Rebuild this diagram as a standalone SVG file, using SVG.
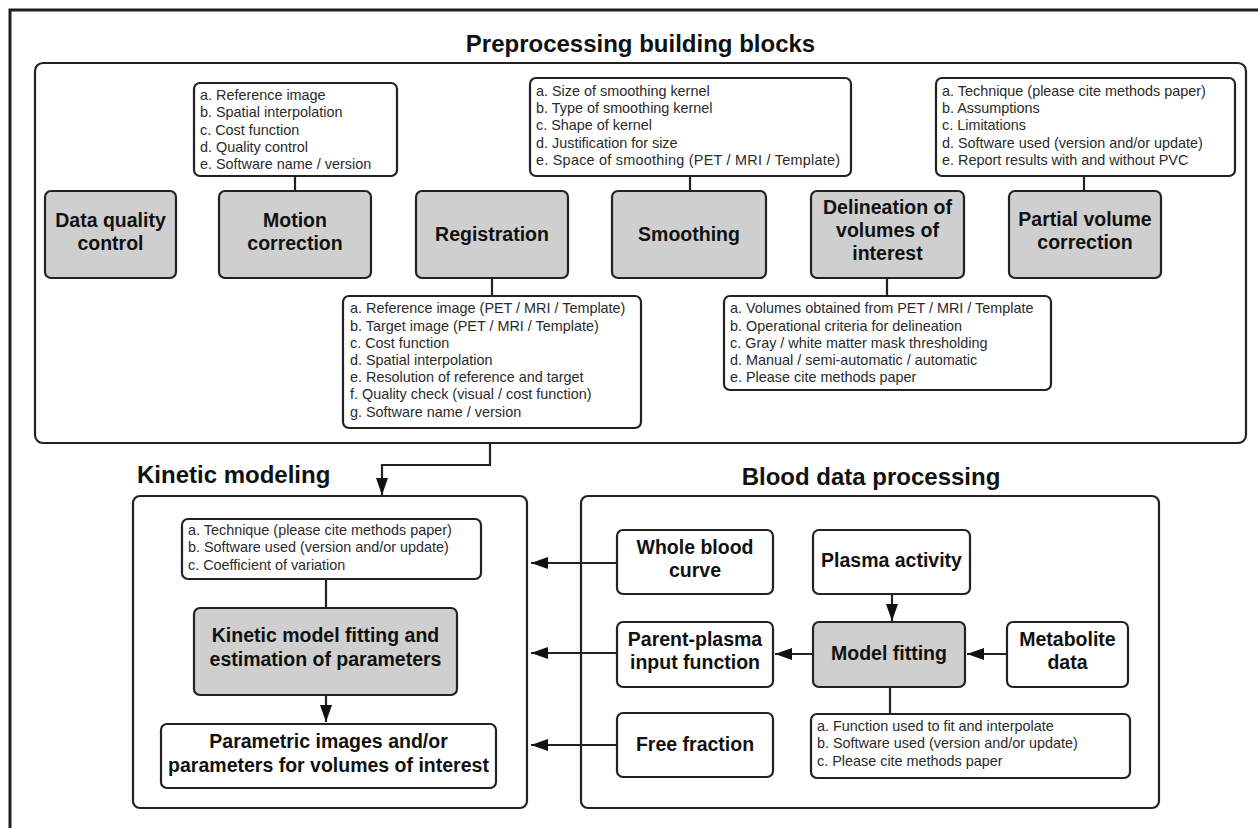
<svg xmlns="http://www.w3.org/2000/svg" width="1258" height="828" viewBox="0 0 1258 828">
<style>
.frame{fill:none;stroke:#1e1e1e;stroke-width:3}
.cont{fill:#fff;stroke:#222;stroke-width:2.2}
.gbox{fill:#cfcfcf;stroke:#222;stroke-width:2.2}
.wbox{fill:#fff;stroke:#222;stroke-width:2.2}
.lbl{font-family:"Liberation Sans",Arial,sans-serif;font-weight:bold;font-size:19.5px;fill:#111;text-anchor:middle}
.ttl{font-family:"Liberation Sans",Arial,sans-serif;font-weight:bold;font-size:24px;fill:#111}
.lst{font-family:"Liberation Sans",Arial,sans-serif;font-size:14.4px;fill:#2a2a2a}
.ln{fill:none;stroke:#222;stroke-width:2.2}
</style>
<defs>
<marker id="ah" markerUnits="userSpaceOnUse" markerWidth="17" markerHeight="12" refX="17" refY="6" orient="auto">
<path d="M0,0 L17,6 L0,12 z" fill="#111"/>
</marker>
</defs>
<rect width="1258" height="828" fill="#fff"/>
<rect class="frame" x="10" y="10" width="1262" height="832"/>

<g id="preprocessing">
<text class="ttl" x="640.5" y="52" text-anchor="middle">Preprocessing building blocks</text>
<rect class="cont" x="35" y="63" width="1211" height="380" rx="8"/>
</g>

<g id="data-quality">
<rect class="gbox" x="45" y="191" width="131" height="87" rx="6"/>
<text class="lbl" x="110.5" y="227">Data quality</text>
<text class="lbl" x="110.5" y="250">control</text>
</g>

<g id="motion-list">
<rect class="wbox" x="194" y="83" width="203" height="93" rx="6"/>
<text class="lst" x="200" y="100">a. Reference image</text>
<text class="lst" x="200" y="117.3">b. Spatial interpolation</text>
<text class="lst" x="200" y="134.6">c. Cost function</text>
<text class="lst" x="200" y="151.9">d. Quality control</text>
<text class="lst" x="200" y="169.2">e. Software name / version</text>
</g>
<g id="motion">
<rect class="gbox" x="219" y="191" width="152" height="87" rx="6"/>
<text class="lbl" x="295" y="227">Motion</text>
<text class="lbl" x="295" y="250">correction</text>
</g>

<g id="registration">
<rect class="gbox" x="416" y="191" width="152" height="87" rx="6"/>
<text class="lbl" x="492" y="241">Registration</text>
</g>
<g id="registration-list">
<rect class="wbox" x="343" y="296" width="298" height="132" rx="6"/>
<text class="lst" x="350" y="313.3">a. Reference image (PET / MRI / Template)</text>
<text class="lst" x="350" y="330.5">b. Target image (PET / MRI / Template)</text>
<text class="lst" x="350" y="347.7">c. Cost function</text>
<text class="lst" x="350" y="364.9">d. Spatial interpolation</text>
<text class="lst" x="350" y="382.1">e. Resolution of reference and target</text>
<text class="lst" x="350" y="399.3">f. Quality check (visual / cost function)</text>
<text class="lst" x="350" y="416.5">g. Software name / version</text>
</g>

<g id="smoothing-list">
<rect class="wbox" x="530" y="78" width="321" height="98" rx="6"/>
<text class="lst" x="536" y="95.7">a. Size of smoothing kernel</text>
<text class="lst" x="536" y="113">b. Type of smoothing kernel</text>
<text class="lst" x="536" y="130.3">c. Shape of kernel</text>
<text class="lst" x="536" y="147.6">d. Justification for size</text>
<text class="lst" x="536" y="164.9" textLength="304" lengthAdjust="spacing">e. Space of smoothing (PET / MRI / Template)</text>
</g>
<g id="smoothing">
<rect class="gbox" x="612" y="191" width="154" height="87" rx="6"/>
<text class="lbl" x="689" y="241">Smoothing</text>
</g>

<g id="delineation">
<rect class="gbox" x="811" y="191" width="153" height="87" rx="6"/>
<text class="lbl" x="887.5" y="214">Delineation of</text>
<text class="lbl" x="887.5" y="237">volumes of</text>
<text class="lbl" x="887.5" y="260">interest</text>
</g>
<g id="delineation-list">
<rect class="wbox" x="724" y="296" width="327" height="94" rx="6"/>
<text class="lst" x="730" y="313.3">a. Volumes obtained from PET / MRI / Template</text>
<text class="lst" x="730" y="330.5">b. Operational criteria for delineation</text>
<text class="lst" x="730" y="347.7">c. Gray / white matter mask thresholding</text>
<text class="lst" x="730" y="364.9">d. Manual / semi-automatic / automatic</text>
<text class="lst" x="730" y="382.1">e. Please cite methods paper</text>
</g>

<g id="pvc-list">
<rect class="wbox" x="936" y="78" width="299" height="98" rx="6"/>
<text class="lst" x="942" y="95.7">a. Technique (please cite methods paper)</text>
<text class="lst" x="942" y="113">b. Assumptions</text>
<text class="lst" x="942" y="130.3">c. Limitations</text>
<text class="lst" x="942" y="147.6">d. Software used (version and/or update)</text>
<text class="lst" x="942" y="164.9">e. Report results with and without PVC</text>
</g>
<g id="pvc">
<rect class="gbox" x="1009" y="191" width="152" height="87" rx="6"/>
<text class="lbl" x="1085" y="226">Partial volume</text>
<text class="lbl" x="1085" y="249">correction</text>
</g>

<g id="kinetic-modeling">
<text class="ttl" x="137" y="483">Kinetic modeling</text>
<rect class="cont" x="133" y="496" width="394" height="312" rx="7"/>
</g>
<g id="km-list">
<rect class="wbox" x="182" y="519" width="299" height="60" rx="6"/>
<text class="lst" x="188" y="535">a. Technique (please cite methods paper)</text>
<text class="lst" x="188" y="552.3">b. Software used (version and/or update)</text>
<text class="lst" x="188" y="569.6">c. Coefficient of variation</text>
</g>
<g id="km-fitting">
<rect class="gbox" x="194" y="608" width="263" height="87" rx="6"/>
<text class="lbl" x="325.5" y="642.3">Kinetic model fitting and</text>
<text class="lbl" x="325.5" y="665.7">estimation of parameters</text>
</g>
<g id="parametric">
<rect class="wbox" x="161" y="724" width="335" height="64" rx="6"/>
<text class="lbl" x="328.5" y="748.3">Parametric images and/or</text>
<text class="lbl" x="328.5" y="771.7">parameters for volumes of interest</text>
</g>

<g id="blood-processing">
<text class="ttl" x="871" y="485" text-anchor="middle">Blood data processing</text>
<rect class="cont" x="581" y="496" width="578" height="312" rx="7"/>
</g>
<g id="whole-blood">
<rect class="wbox" x="617" y="530" width="156" height="64" rx="6"/>
<text class="lbl" x="695" y="554.3">Whole blood</text>
<text class="lbl" x="695" y="577.3">curve</text>
</g>
<g id="plasma-activity">
<rect class="wbox" x="813" y="530" width="157" height="64" rx="6"/>
<text class="lbl" x="891.5" y="567">Plasma activity</text>
</g>
<g id="parent-plasma">
<rect class="wbox" x="617" y="622" width="156" height="65" rx="6"/>
<text class="lbl" x="695" y="645.5">Parent-plasma</text>
<text class="lbl" x="695" y="668.5">input function</text>
</g>
<g id="model-fitting">
<rect class="gbox" x="813" y="622" width="152" height="65" rx="6"/>
<text class="lbl" x="889" y="660">Model fitting</text>
</g>
<g id="metabolite">
<rect class="wbox" x="1007" y="622" width="121" height="65" rx="6"/>
<text class="lbl" x="1067.5" y="645.5">Metabolite</text>
<text class="lbl" x="1067.5" y="668.5">data</text>
</g>
<g id="free-fraction">
<rect class="wbox" x="617" y="713" width="156" height="64" rx="6"/>
<text class="lbl" x="695" y="751">Free fraction</text>
</g>
<g id="mf-list">
<rect class="wbox" x="811" y="714" width="319" height="64" rx="6"/>
<text class="lst" x="817" y="731">a. Function used to fit and interpolate</text>
<text class="lst" x="817" y="748.3">b. Software used (version and/or update)</text>
<text class="lst" x="817" y="765.6">c. Please cite methods paper</text>
</g>

<g id="connectors">
<line class="ln" x1="295" y1="176" x2="295" y2="191"/>
<line class="ln" x1="690" y1="176" x2="690" y2="191"/>
<line class="ln" x1="1084" y1="176" x2="1084" y2="191"/>
<line class="ln" x1="492" y1="278" x2="492" y2="296"/>
<line class="ln" x1="887" y1="278" x2="887" y2="296"/>
<polyline class="ln" points="490,443 490,465 382,465 382,495" marker-end="url(#ah)"/>
<line class="ln" x1="326" y1="579" x2="326" y2="608"/>
<line class="ln" x1="326" y1="695" x2="326" y2="722" marker-end="url(#ah)"/>
<line class="ln" x1="617" y1="563" x2="531" y2="563" marker-end="url(#ah)"/>
<line class="ln" x1="617" y1="653" x2="531" y2="653" marker-end="url(#ah)"/>
<line class="ln" x1="617" y1="745" x2="531" y2="745" marker-end="url(#ah)"/>
<line class="ln" x1="892" y1="594" x2="892" y2="621" marker-end="url(#ah)"/>
<line class="ln" x1="813" y1="654" x2="775" y2="654" marker-end="url(#ah)"/>
<line class="ln" x1="1007" y1="654" x2="967" y2="654" marker-end="url(#ah)"/>
<line class="ln" x1="890" y1="687" x2="890" y2="714"/>
</g>
</svg>
